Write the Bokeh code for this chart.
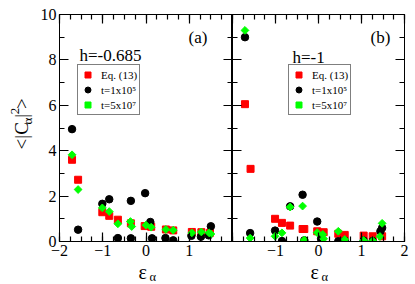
import math
from bokeh.plotting import figure
from bokeh.models import Range1d, LinearAxis, FixedTicker, Legend, LegendItem, Label
from bokeh.layouts import row, column
from bokeh.core.properties import value
from bokeh.embed import file_html
from bokeh.resources import INLINE

# ---------------- data ----------------
# panel (a): h = -0.685
a_eq_x = [-1.71, -1.57, -1.01, -0.85, -0.65, -0.35, -0.03, 0.12, 0.46, 0.63, 1.06, 1.28, 1.48]
a_eq_y = [3.60, 2.72, 1.29, 1.13, 0.96, 0.80, 0.68, 0.65, 0.53, 0.49, 0.42, 0.41, 0.38]
a_t5_x = [-1.71, -1.57, -1.01, -0.85, -0.65, -0.35, -0.35, -0.02, 0.10, 0.14, 0.45, 0.63, 1.05, 1.27, 1.45, 1.50]
a_t5_y = [4.95, 0.52, 1.66, 1.86, 0.15, 1.79, 0.14, 2.13, 0.86, 0.14, 0.15, 0.05, 0.25, 0.21, 0.27, 0.67]
a_t7_x = [-1.71, -1.57, -1.01, -0.85, -0.65, -0.36, -0.33, 0.00, 0.12, 0.46, 0.63, 1.06, 1.28, 1.46, 1.50]
a_t7_y = [3.82, 2.29, 1.48, 1.32, 0.78, 0.88, 0.66, 0.72, 0.63, 0.53, 0.50, 0.38, 0.42, 0.38, 0.33]

# panel (b): h = -1
b_eq_x = [-1.71, -1.58, -1.01, -0.85, -0.66, -0.37, -0.33, -0.03, 0.12, 0.46, 0.61, 1.05, 1.26, 1.48]
b_eq_y = [6.05, 3.20, 1.00, 0.82, 0.70, 0.55, 0.55, 0.45, 0.41, 0.34, 0.29, 0.26, 0.23, 0.23]
b_t5_x = [-1.71, -1.59, -1.01, -0.85, -0.66, -0.37, -0.33, -0.03, 0.06, 0.46, 0.61, 1.05, 1.26, 1.44, 1.48]
b_t5_y = [9.00, 0.37, 0.48, 0.02, 1.55, 2.06, 0.05, 0.88, 0.12, 0.01, 0.04, 0.04, 0.02, 0.45, 0.60]
b_t7_x = [-1.71, -1.59, -1.01, -0.85, -0.66, -0.37, -0.33, -0.03, 0.10, 0.12, 0.46, 0.61, 1.05, 1.26, 1.43, 1.48]
b_t7_y = [9.30, 0.15, 0.23, 0.38, 1.52, 1.56, 0.07, 0.39, 0.31, 0.12, 0.45, 0.09, 0.05, 0.03, 0.22, 0.80]

x_major = [-2, -1, 0, 1, 2]
y_major = [0, 2, 4, 6, 8, 10]
legend_labels = ["Eq. (13)", "t=1x10\u2075", "t=5x10\u2077"]

FONT = "Liberation Serif"
RED = "#ff0000"
GREEN = "#00ff00"

# layout (page pixels)
YLAB_W = 36
TOP = 14
FRAME_H = 227
BOTTOM = 21
PANEL_H = TOP + FRAME_H + BOTTOM   # 262
XLAB_H = 284 - PANEL_H
TOTAL_W = 411


def style_axis(ax, ticks, minor, labels, overrides=None):
    ax.ticker = FixedTicker(ticks=ticks, minor_ticks=minor)
    ax.major_tick_in = 9
    ax.major_tick_out = 0
    ax.minor_tick_in = 5
    ax.minor_tick_out = 0
    ax.axis_line_color = "black"
    ax.major_tick_line_color = "black"
    ax.minor_tick_line_color = "black"
    ax.axis_line_width = 1
    ax.major_tick_line_width = 1.2
    ax.minor_tick_line_width = 1.2
    if labels:
        ax.major_label_text_font = FONT
        ax.major_label_text_font_size = "16px"
        ax.major_label_text_color = "black"
        ax.major_label_standoff = 3
        if overrides:
            ax.major_label_overrides = overrides
    else:
        ax.major_label_text_font_size = "0px"
        ax.major_label_text_alpha = 0
        ax.major_label_standoff = 0


x_minor = [-2 + 0.25 * i for i in range(17)]
y_minor = list(range(0, 11))


def make_fig(bl, br, fw, xover, ylabels):
    p = figure(frame_width=fw, frame_height=FRAME_H,
               x_range=Range1d(-2, 2), y_range=Range1d(0, 10),
               output_backend="svg", toolbar_location=None,
               x_axis_location=None, y_axis_location=None,
               min_border_left=bl, min_border_right=br,
               min_border_top=TOP, min_border_bottom=BOTTOM)
    p.grid.visible = False
    p.outline_line_color = "black"
    p.outline_line_width = 1
    p.background_fill_color = "white"
    p.border_fill_color = "white"
    bx = LinearAxis(); style_axis(bx, x_major, x_minor, True, xover); p.add_layout(bx, "below")
    tx = LinearAxis(); style_axis(tx, x_major, x_minor, False); p.add_layout(tx, "above")
    ly = LinearAxis(); style_axis(ly, y_major, y_minor, ylabels); p.add_layout(ly, "left")
    ry = LinearAxis(); style_axis(ry, y_major, y_minor, False); p.add_layout(ry, "right")
    return p


def add_data(p, ex, ey, t5x, t5y, t7x, t7y, loc):
    r1 = p.scatter(ex, ey, marker="square", size=7, color=RED)
    r2 = p.scatter(t5x, t5y, marker="circle", size=7.5, color="black")
    r3 = p.scatter(t7x, t7y, marker="square", angle=math.pi / 4, size=5.5, color=GREEN)
    leg = Legend(items=[LegendItem(label=legend_labels[0], renderers=[r1]),
                        LegendItem(label=legend_labels[1], renderers=[r2]),
                        LegendItem(label=legend_labels[2], renderers=[r3])],
                 location=loc)
    leg.label_text_font = FONT
    leg.label_text_font_size = "11px"
    leg.label_text_color = "black"
    leg.glyph_width = 15
    leg.glyph_height = 15
    leg.label_height = 15
    leg.label_standoff = 6
    leg.spacing = 0
    leg.padding = 2
    leg.margin = 0
    leg.border_line_color = "black"
    leg.border_line_width = 1.2
    leg.background_fill_color = "white"
    leg.background_fill_alpha = 1
    p.add_layout(leg)


def lab(p, x, y, text, size):
    p.add_layout(Label(x=x, y=y, text=text, text_font=FONT, text_font_size=size,
                       text_color="black", text_align="left",
                       text_baseline="alphabetic"))


# page-pixel -> data helpers for in-frame text placement
def ax_a(px):
    return (px - 59) / 43.25 - 2


def ax_b(px):
    return (px - 232) / 43.0 - 2


def ay(py):
    return (241 - py) / 22.7


pa = make_fig(59 - YLAB_W, 0, 173, {2: ""}, True)
pb = make_fig(0, 7, 172, {-2: ""}, False)

add_data(pa, a_eq_x, a_eq_y, a_t5_x, a_t5_y, a_t7_x, a_t7_y, (18, 126))
add_data(pb, b_eq_x, b_eq_y, b_t5_x, b_t5_y, b_t7_x, b_t7_y, (56, 126))

# panel texts
lab(pa, ax_a(79), ay(55), "h=-0.685", "17px")
lab(pa, ax_a(188), ay(37), "(a)", "17px")
lab(pb, ax_b(292), ay(57), "h=-1", "17px")
lab(pb, ax_b(370), ay(37), "(b)", "17px")


def text_fig(w, h):
    f = figure(width=w, height=h, x_range=Range1d(0, w), y_range=Range1d(0, h),
               output_backend="svg", toolbar_location=None,
               x_axis_location=None, y_axis_location=None, min_border=0)
    f.grid.visible = False
    f.outline_line_color = None
    f.background_fill_color = "white"
    f.border_fill_color = "white"
    return f


def put(f, h, y0, px, py, text, size, angle=0.0, align="left", base="alphabetic"):
    f.text(x=[px], y=[h - (py - y0)], text=[text], angle=angle,
           text_font=value(FONT), text_font_size=value(size), text_color="black",
           text_align=align, text_baseline=base)


# y label: <|C_alpha|^2>  (rotated, each piece centred on its own position)
ylab = text_fig(YLAB_W, PANEL_H)
R = math.pi / 2
put(ylab, PANEL_H, 0, 20.5, 140, "<|C", "19px", R, "center", "middle")
put(ylab, PANEL_H, 0, 26.5, 123, "\u03b1", "13px", R, "center", "middle")
put(ylab, PANEL_H, 0, 20.5, 117, "|", "19px", R, "center", "middle")
put(ylab, PANEL_H, 0, 14.5, 111.5, "2", "13px", R, "center", "middle")
put(ylab, PANEL_H, 0, 20.5, 103, ">", "19px", R, "center", "middle")

# x labels: epsilon_alpha
xlab = text_fig(TOTAL_W, XLAB_H)
put(xlab, XLAB_H, PANEL_H, 138, 271, "\u03b5", "20px")
put(xlab, XLAB_H, PANEL_H, 149, 276, "\u03b1", "12.5px")
put(xlab, XLAB_H, PANEL_H, 310, 271, "\u03b5", "20px")
put(xlab, XLAB_H, PANEL_H, 321, 276, "\u03b1", "12.5px")

layout = column(row(ylab, pa, pb), xlab)
open("out.html", "w").write(file_html(layout, INLINE))
